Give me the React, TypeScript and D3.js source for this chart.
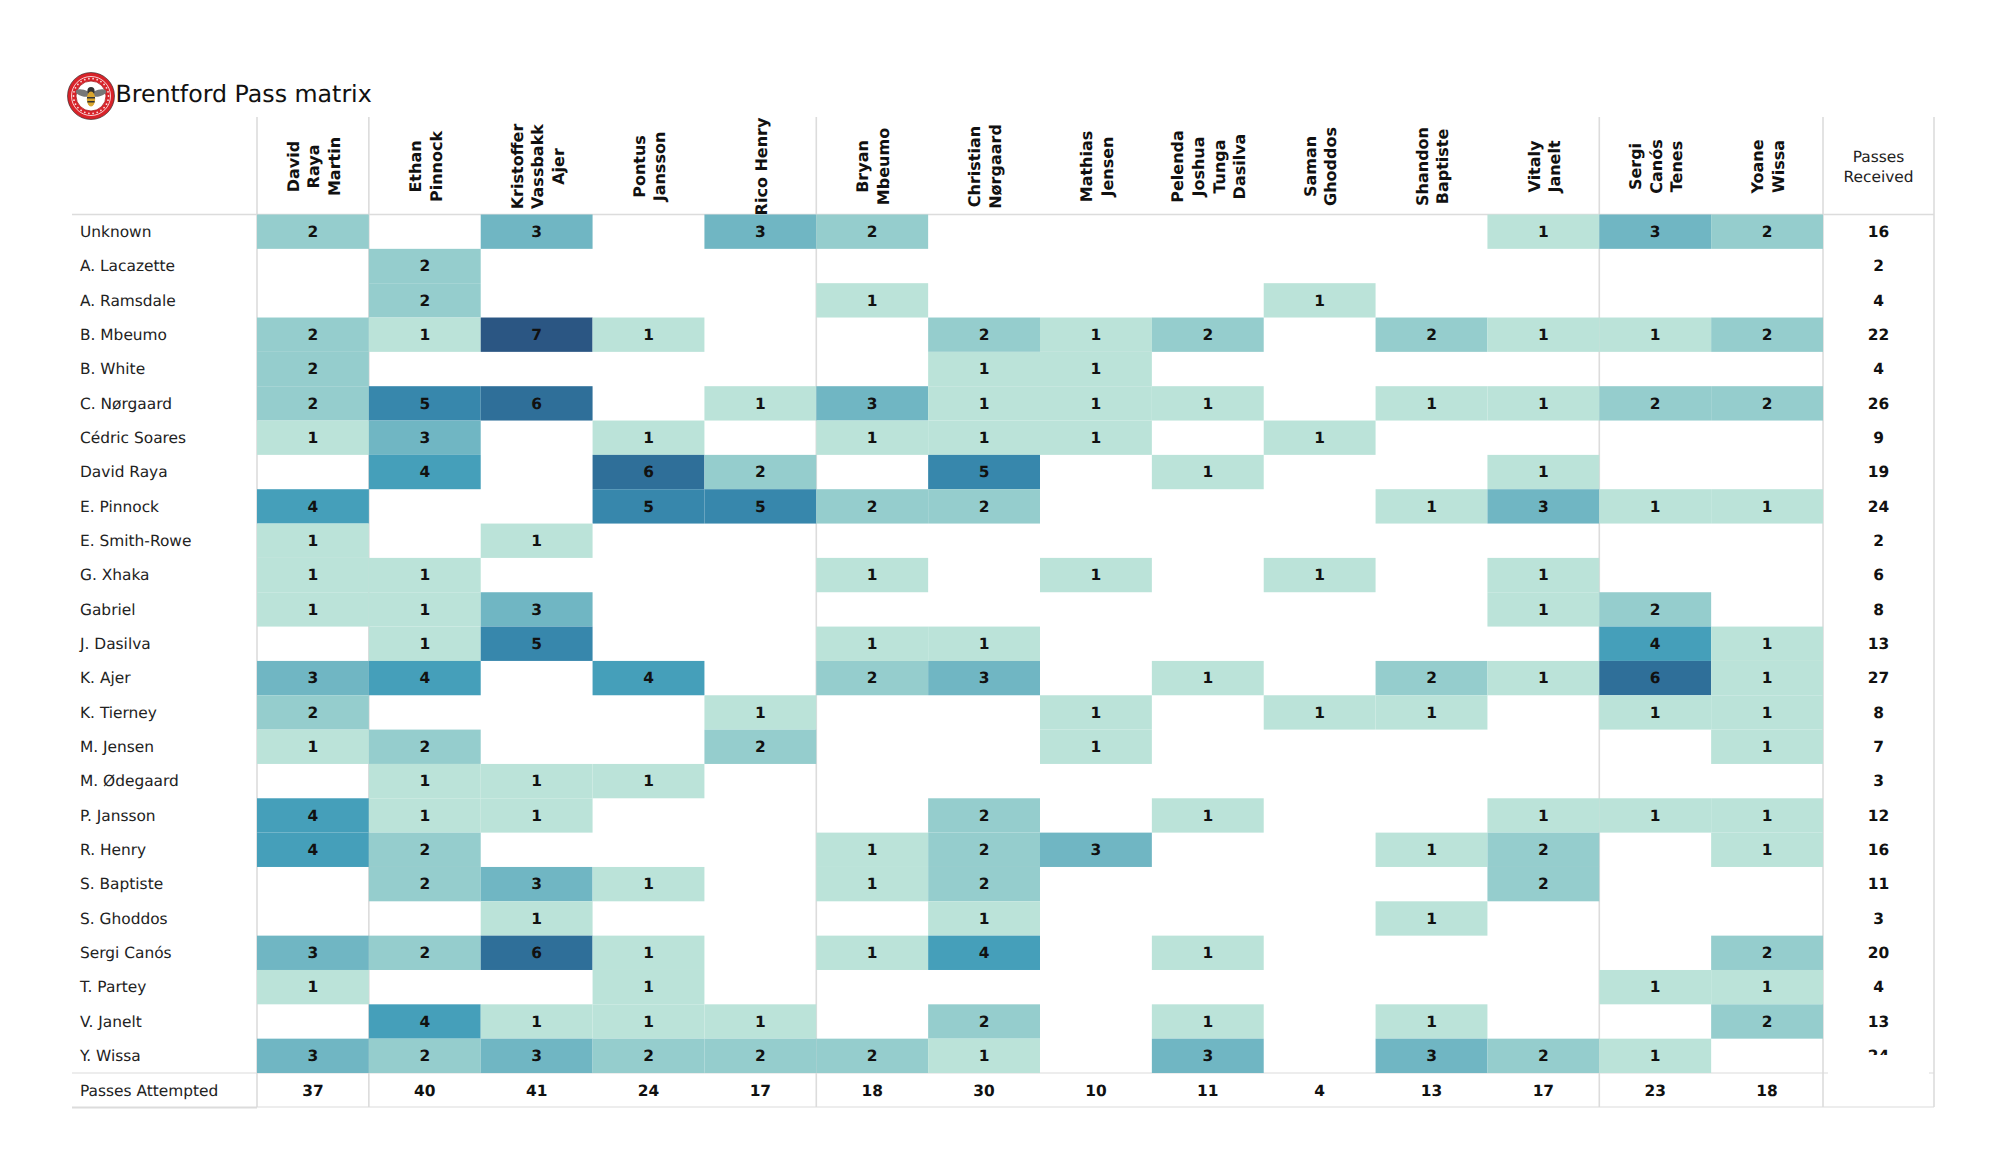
import React from "react";
import * as d3 from "d3";

const receivers = ["Unknown","A. Lacazette","A. Ramsdale","B. Mbeumo","B. White","C. Nørgaard","Cédric Soares","David Raya","E. Pinnock","E. Smith-Rowe","G. Xhaka","Gabriel","J. Dasilva","K. Ajer","K. Tierney","M. Jensen","M. Ødegaard","P. Jansson","R. Henry","S. Baptiste","S. Ghoddos","Sergi Canós","T. Partey","V. Janelt","Y. Wissa"];
const passers = [["David","Raya","Martin"],["Ethan","Pinnock"],["Kristoffer","Vassbakk","Ajer"],["Pontus","Jansson"],["Rico Henry"],["Bryan","Mbeumo"],["Christian","Nørgaard"],["Mathias","Jensen"],["Pelenda","Joshua","Tunga","Dasilva"],["Saman","Ghoddos"],["Shandon","Baptiste"],["Vitaly","Janelt"],["Sergi","Canós","Tenes"],["Yoane","Wissa"]];

const unknown      = [2,0,3,0,3,2,0,0,0,0,0,1,3,2];
const lacazette    = [0,2,0,0,0,0,0,0,0,0,0,0,0,0];
const ramsdale     = [0,2,0,0,0,1,0,0,0,1,0,0,0,0];
const mbeumo       = [2,1,7,1,0,0,2,1,2,0,2,1,1,2];
const white        = [2,0,0,0,0,0,1,1,0,0,0,0,0,0];
const norgaard     = [2,5,6,0,1,3,1,1,1,0,1,1,2,2];
const cedric       = [1,3,0,1,0,1,1,1,0,1,0,0,0,0];
const raya         = [0,4,0,6,2,0,5,0,1,0,0,1,0,0];
const pinnock      = [4,0,0,5,5,2,2,0,0,0,1,3,1,1];
const smithRowe    = [1,0,1,0,0,0,0,0,0,0,0,0,0,0];
const xhaka        = [1,1,0,0,0,1,0,1,0,1,0,1,0,0];
const gabriel      = [1,1,3,0,0,0,0,0,0,0,0,1,2,0];
const dasilva      = [0,1,5,0,0,1,1,0,0,0,0,0,4,1];
const ajer         = [3,4,0,4,0,2,3,0,1,0,2,1,6,1];
const tierney      = [2,0,0,0,1,0,0,1,0,1,1,0,1,1];
const jensen       = [1,2,0,0,2,0,0,1,0,0,0,0,0,1];
const odegaard     = [0,1,1,1,0,0,0,0,0,0,0,0,0,0];
const jansson      = [4,1,1,0,0,0,2,0,1,0,0,1,1,1];
const henry        = [4,2,0,0,0,1,2,3,0,0,1,2,0,1];
const baptiste     = [0,2,3,1,0,1,2,0,0,0,0,2,0,0];
const ghoddos      = [0,0,1,0,0,0,1,0,0,0,1,0,0,0];
const canos        = [3,2,6,1,0,1,4,0,1,0,0,0,0,2];
const partey       = [1,0,0,1,0,0,0,0,0,0,0,0,1,1];
const janelt       = [0,4,1,1,1,0,2,0,1,0,1,0,0,2];
const wissa        = [3,2,3,2,2,2,1,0,3,0,3,2,1,0];
const rowsData = [unknown,lacazette,ramsdale,mbeumo,white,norgaard,cedric,raya,pinnock,smithRowe,xhaka,gabriel,dasilva,ajer,tierney,jensen,odegaard,jansson,henry,baptiste,ghoddos,canos,partey,janelt,wissa];

const passesReceived = [16,2,4,22,4,26,9,19,24,2,6,8,13,27,8,7,3,12,16,11,3,20,4,13,24];
const passesAttempted = [37,40,41,24,17,18,30,10,11,4,13,17,23,18];
const colorDomain = [1,2,3,4,5,6,7];
const colorRange = ["#bbe3d9","#95cdcd","#70b6c3","#459fba","#3787ac","#2f6f99","#2b5683"];
const separatorColumns = [0,1,5,12,14];

const FONT = "'DejaVu Sans', sans-serif";
const LINE = "#dcdcdc";
const FS = 15.4;

export default function App() {
  const x = d3.scaleBand<number>().domain(d3.range(14)).range([257, 1823]);
  const y = d3.scaleBand<number>().domain(d3.range(25)).range([214.5, 1073]);
  const color = d3.scaleOrdinal<number, string>().domain(colorDomain).range(colorRange);
  const cx = (c: number) => x(c)! + x.bandwidth() / 2;
  const cy = (r: number) => y(r)! + y.bandwidth() / 2 - 0.2;
  const lineX = (c: number) => (c === 14 ? 1823 : x(c)!);
  const logoCx = 91, logoCy = 96;
  const ringText = d3.range(26).map((i) => (i / 26) * 2 * Math.PI);

  return (
    <svg width={2000} height={1175} style={{ position: "absolute", left: 0, top: 0, display: "block", background: "#fff" }} fontFamily={FONT} textRendering="geometricPrecision">
      {/* grid lines */}
      {separatorColumns.map((c) => (
        <line key={c} x1={lineX(c)} x2={lineX(c)} y1={117} y2={1107} stroke={LINE} strokeWidth={1.6} />
      ))}
      <line x1={1934} x2={1934} y1={117} y2={1107} stroke={LINE} strokeWidth={1.6} />
      <line x1={72} x2={1934} y1={214.5} y2={214.5} stroke={LINE} strokeWidth={1.6} />
      <line x1={72} x2={1934} y1={1073} y2={1073} stroke={LINE} strokeWidth={1.2} />
      <line x1={257} x2={1934} y1={1107} y2={1107} stroke={LINE} strokeWidth={1.2} />
      <line x1={72} x2={257} y1={1107.5} y2={1107.5} stroke={LINE} strokeWidth={2} />

      {/* cells */}
      {rowsData.map((row, r) =>
        row.map((v, c) =>
          v > 0 ? <rect key={`${r}-${c}`} x={x(c)} y={y(r)! } width={x.bandwidth()} height={y.bandwidth()} fill={color(v)} /> : null
        )
      )}
      {rowsData.map((row, r) =>
        row.map((v, c) =>
          v > 0 ? (
            <text key={`t${r}-${c}`} x={cx(c)} y={cy(r)} dy="0.36em" textAnchor="middle" fontSize={FS} fontWeight={700} fill="#111">{v}</text>
          ) : null
        )
      )}

      {/* row labels */}
      {receivers.map((name, r) => (
        <text key={name} x={80} y={cy(r)} dy="0.36em" fontSize={FS} fill="#222">{name}</text>
      ))}
      <text x={80} y={1090} dy="0.36em" fontSize={FS} fill="#222">Passes Attempted</text>

      {/* column headers */}
      {passers.map((lines, c) => (
        <text key={c} transform={`translate(${cx(c)},166.5) rotate(-90)`} textAnchor="middle" fontSize={16} fontWeight={700} fill="#111">
          {lines.map((l, i) => (
            <tspan key={i} x={0} y={(i - (lines.length - 1) / 2) * 20.6 + 6.5}>{l}</tspan>
          ))}
        </text>
      ))}
      <text x={1878.5} y={162} textAnchor="middle" fontSize={FS} fill="#222">Passes</text>
      <text x={1878.5} y={182} textAnchor="middle" fontSize={FS} fill="#222">Received</text>

      {/* totals */}
      {passesReceived.map((v, r) => (
        <text key={r} x={1878.5} y={cy(r)} dy="0.36em" textAnchor="middle" fontSize={FS} fontWeight={700} fill="#111">{v}</text>
      ))}
      {passesAttempted.map((v, c) => (
        <text key={c} x={cx(c)} y={1090} dy="0.36em" textAnchor="middle" fontSize={FS} fontWeight={700} fill="#111">{v}</text>
      ))}
      {/* cover clipping the last total */}
      <rect x={1828} y={1055} width={101} height={28} fill="#fff" />

      {/* logo */}
      <circle cx={logoCx} cy={logoCy} r={23.5} fill="#d8232a" stroke="#222" strokeWidth={0.6} />
      <circle cx={logoCx} cy={logoCy} r={19.5} fill="none" stroke="#fff" strokeWidth={0.8} />
      {ringText.map((a, i) => (
        <circle key={i} cx={logoCx + 17.5 * Math.cos(a)} cy={logoCy + 17.5 * Math.sin(a)} r={0.9} fill="#f7dcdc" />
      ))}
      <circle cx={logoCx} cy={logoCy} r={15} fill="#fff" stroke="#a81a20" strokeWidth={0.8} />
      <ellipse cx={logoCx - 8} cy={logoCy - 3} rx={7.5} ry={3.4} transform={`rotate(15 ${logoCx - 8} ${logoCy - 3})`} fill="#777" />
      <ellipse cx={logoCx + 8} cy={logoCy - 3} rx={7.5} ry={3.4} transform={`rotate(-15 ${logoCx + 8} ${logoCy - 3})`} fill="#777" />
      <ellipse cx={logoCx} cy={logoCy - 5} rx={3.6} ry={4} fill="#333" />
      <ellipse cx={logoCx} cy={logoCy + 3} rx={4.2} ry={7.5} fill="#d9a62e" />
      <rect x={logoCx - 4} y={logoCy + 1} width={8} height={1.5} fill="#333" />
      <rect x={logoCx - 3.6} y={logoCy + 5} width={7.2} height={1.5} fill="#333" />

      <text x={115.5} y={102} fontSize={23.7} fill="#111">Brentford Pass matrix</text>
    </svg>
  );
}
